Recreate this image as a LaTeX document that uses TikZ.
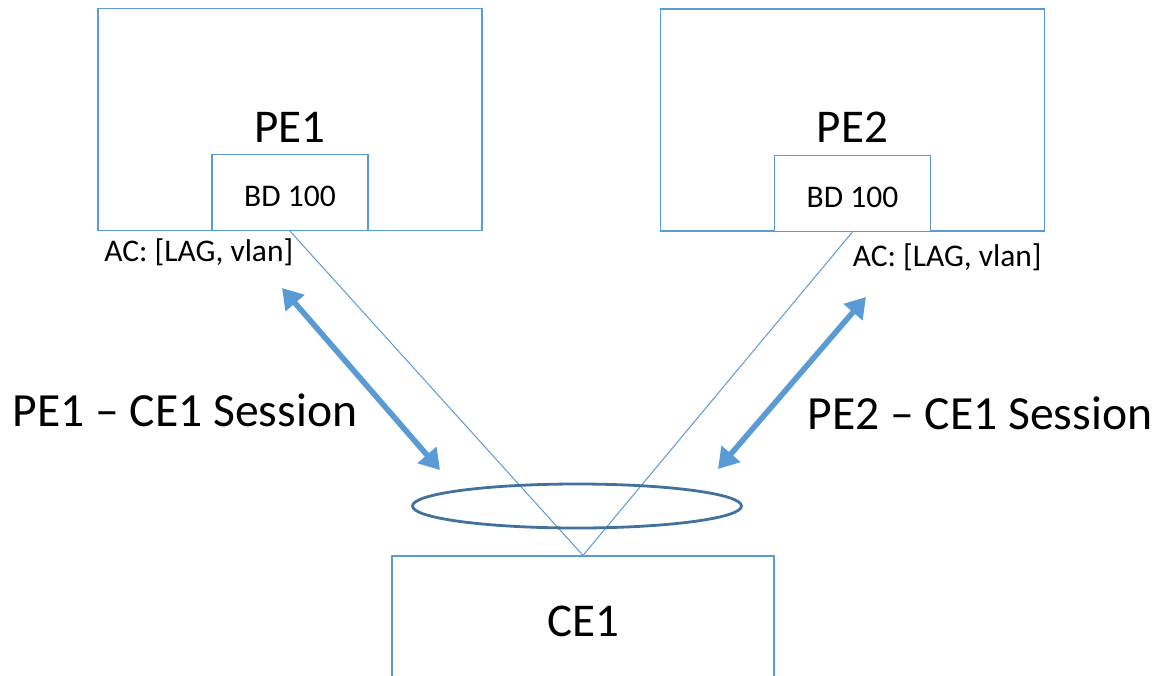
\documentclass[tikz,border=0pt]{standalone}
\usepackage{fontspec}
\setmainfont{Carlito}
\usetikzlibrary{arrows.meta}
\usetikzlibrary{positioning}
\definecolor{boxblue}{HTML}{5B9BD5}
\definecolor{lagblue}{HTML}{41719C}
\tikzset{pebox/.style = {draw=boxblue, line width=0.6pt, inner sep=0, minimum width=192pt, minimum height=111pt}}
\tikzset{bdbox/.style = {draw=boxblue, fill=white, line width=0.6pt, inner sep=0, minimum width=78pt, minimum height=38pt}}
\tikzset{cebox/.style = {draw=boxblue, line width=0.6pt, inner sep=0, minimum width=191pt, minimum height=67pt}}
\tikzset{bigtxt/.style = {inner sep=0, font=\fontsize{23.5}{28}\selectfont}}
\tikzset{sesstxt/.style = {inner sep=0, font=\fontsize{23.8}{28}\selectfont}}
\tikzset{smalltxt/.style = {inner sep=0, font=\fontsize{15.75}{18}\selectfont}}
\tikzset{link/.style = {draw=boxblue, line width=0.5pt}}
\tikzset{session/.style = {draw=boxblue, line width=2.8pt, {Triangle[length=10pt,width=12pt]}-{Triangle[length=10pt,width=12pt]}}}
\tikzset{lagring/.style = {draw=lagblue, line width=1.4pt}}

\begin{document}
\begin{tikzpicture}[x=0.5pt, y=-0.5pt]
  \useasboundingbox (0,0) rectangle (1161,675);
  \clip (0,0) rectangle (1161,675);

  \node [pebox] (pe1) at (290, 119.5) {};
  \node [bigtxt] (pe1lbl) at (290, 127) {PE1};
  \node [bdbox] (bd1) at (290, 192.5) {};
  \node [smalltxt] (bd1lbl) at (290, 196) {BD 100};
  \node [smalltxt, anchor=west] (ac1) at (104, 252) {AC: [LAG, vlan]};

  \node [pebox] (pe2) at (852.5, 120) {};
  \node [bigtxt] (pe2lbl) at (852.5, 127) {PE2};
  \node [bdbox] (bd2) at (852.5, 193.3) {};
  \node [smalltxt] (bd2lbl) at (852.5, 197) {BD 100};
  \node [smalltxt, anchor=east] (ac2) at (1042, 257.5) {AC: [LAG, vlan]};

  \node [cebox] (ce1) at (583, 623) {};
  \node [bigtxt] (ce1lbl) at (583, 621) {CE1};

  \draw [link] (bd1.south) -- (ce1.north);
  \draw [link] (bd2.south) -- (ce1.north);
  \draw [lagring] (577, 506) ellipse [x radius=82.25pt, y radius=11pt];

  \coordinate (s1top) at (282, 288);
  \coordinate (s1bot) at (440, 470);
  \coordinate (s2top) at (866, 297);
  \coordinate (s2bot) at (718, 469);
  \draw [session] (s1top) -- (s1bot);
  \draw [session] (s2top) -- (s2bot);

  \node [sesstxt] (sess1) at (185, 410) {PE1 – CE1 Session};
  \node [sesstxt] (sess2) at (980, 413) {PE2 – CE1 Session};
\end{tikzpicture}
\end{document}
